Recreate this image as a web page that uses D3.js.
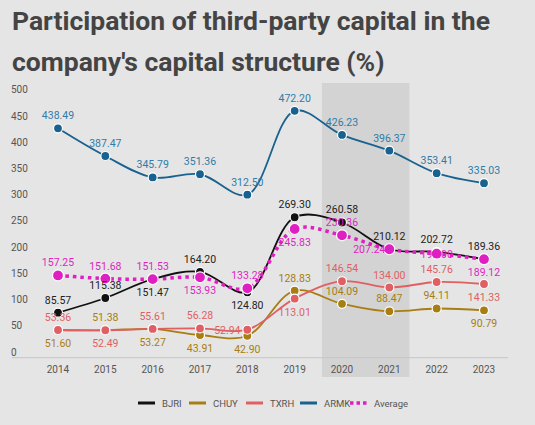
<!DOCTYPE html>
<html><head><meta charset="utf-8">
<script src="https://cdn.jsdelivr.net/npm/d3@7"></script>
<style>body{margin:0;background:#e5e5e5;}</style>
</head><body>
<script>
const years = [2014,2015,2016,2017,2018,2019,2020,2021,2022,2023];
const yTicks = [0,50,100,150,200,250,300,350,400,450,500];
// plotted positions
const bjri = [74,102,138,152,113,256,246,195,190,176];
const chuy = [41,40.5,43,31.5,30,116,91,76.6,82,78.5];
const txrh = [41,40.5,43,44,41.5,100.8,134,122,132.5,128.7];
const armk = [425.6,372.8,332,338,299,459,413,383,340,321];
const avg  = [145,139,138,141.5,120.5,233.6,221.6,195,186.5,176];
// printed labels and their placement (a above, b below, l left, c on point)
const bjriLab = ["85.57","115.38","151.47","164.20","124.80","269.30","260.58","210.12","202.72","189.36"];
const bjriPos = ["a","a","b","a","b","a","a","a","a","a"];
const chuyLab = ["51.60","51.38","53.27","43.91","42.90","128.83","104.09","88.47","94.11","90.79"];
const chuyPos = ["b","a","b","b","b","a","a","a","a","b"];
const txrhLab = ["53.36","52.49","55.61","56.28","52.94","113.01","146.54","134.00","145.76","141.33"];
const txrhPos = ["a","b","a","a","l","b","a","a","a","b"];
const armkLab = ["438.49","387.47","345.79","351.36","312.50","472.20","426.23","396.37","353.41","335.03"];
const armkPos = ["a","a","a","a","a","a","a","a","a","a"];
const avgLab  = ["157.25","151.68","151.53","153.93","133.28","245.83","230.36","207.24","199.00","189.12"];
const avgPos  = ["a","a","a","b","a","b","a","l","c","b"];

const series = [
  {name:"BJRI", vals:bjri, lab:bjriLab, pos:bjriPos, color:"#111", text:"#222"},
  {name:"CHUY", vals:chuy, lab:chuyLab, pos:chuyPos, color:"#a87d12", text:"#a87d12"},
  {name:"TXRH", vals:txrh, lab:txrhLab, pos:txrhPos, color:"#e05f62", text:"#e05f62"},
  {name:"ARMK", vals:armk, lab:armkLab, pos:armkPos, color:"#19628f", text:"#2f7ca8"},
  {name:"Average", vals:avg, lab:avgLab, pos:avgPos, color:"#e01fc2", text:"#e01fc2", dotted:true},
];

const W = 535, H = 425;
const svg = d3.select("body").append("svg").attr("width", W).attr("height", H)
  .style("font-family", "Roboto, sans-serif");
svg.append("rect").attr("width", W).attr("height", H).attr("fill", "#e5e5e5");

svg.append("text").attr("x", 12).attr("y", 30).attr("font-size", 26.5).attr("font-weight", "bold")
  .attr("fill", "#444").text("Participation of third-party capital in the");
svg.append("text").attr("x", 12).attr("y", 71).attr("font-size", 26.5).attr("font-weight", "bold")
  .attr("fill", "#444").text("company's capital structure (%)");

const x = d3.scalePoint().domain(years).range([58, 484]);
const y = d3.scaleLinear().domain([0, 500]).range([351.5, 89.3]);

// highlighted band 2020–2021
const half = x.step() / 2 * 0.85;
svg.append("rect").attr("x", x(2020) - half).attr("y", 83)
  .attr("width", x(2021) - x(2020) + 2 * half).attr("height", 294).attr("fill", "#d3d3d3");

svg.append("line").attr("x1", 12).attr("x2", 508).attr("y1", 357.7).attr("y2", 357.7)
  .attr("stroke", "#c6c6c6");

yTicks.forEach(t => {
  svg.append("text").attr("x", 11).attr("y", y(t) + 4).attr("font-size", 10).attr("fill", "#555").text(t);
});
years.forEach(yr => {
  svg.append("text").attr("x", x(yr)).attr("y", 373).attr("text-anchor", "middle")
    .attr("font-size", 10).attr("fill", "#555").text(yr);
});

const line = d3.line().x((d, i) => x(years[i])).y(d => y(d)).curve(d3.curveCatmullRom.alpha(0.5));

series.forEach(s => {
  svg.append("path").attr("d", line(s.vals)).attr("fill", "none").attr("stroke", s.color)
    .attr("stroke-width", s.dotted ? 3.5 : 1.8)
    .attr("stroke-dasharray", s.dotted ? "3.5,4" : null);
});
series.forEach(s => {
  svg.append("g").selectAll("circle").data(s.vals).join("circle")
    .attr("cx", (d, i) => x(years[i])).attr("cy", d => y(d))
    .attr("r", s.dotted ? 5.5 : 4.5).attr("fill", s.color)
    .attr("stroke", "#fff").attr("stroke-width", 1.2);
});
series.forEach(s => {
  svg.append("g").selectAll("text").data(s.vals).join("text")
    .attr("x", (d, i) => x(years[i]) + (s.pos[i] === "l" ? -20 : 0))
    .attr("y", (d, i) => y(d) + ({a: -9, b: 17, l: 4, c: 4})[s.pos[i]])
    .attr("text-anchor", "middle").attr("font-size", 10.5).attr("fill", s.text)
    .text((d, i) => s.lab[i]);
});

// legend
const lg = svg.append("g").attr("transform", "translate(0,403)");
const legX = [138, 189, 246, 300, 350];
series.forEach((s, i) => {
  lg.append("line").attr("x1", legX[i]).attr("x2", legX[i] + 17).attr("y1", 0).attr("y2", 0)
    .attr("stroke", s.color).attr("stroke-width", s.dotted ? 3.5 : 3)
    .attr("stroke-dasharray", s.dotted ? "3.5,3" : null);
  lg.append("text").attr("x", legX[i] + 24).attr("y", 3.5).attr("font-size", 9.5)
    .attr("fill", "#555").text(s.name);
});
</script>
</body></html>
